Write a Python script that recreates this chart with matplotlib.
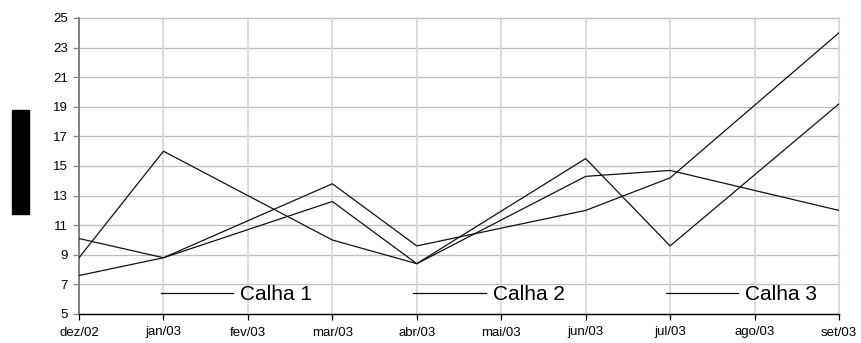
import matplotlib
matplotlib.use("Agg")
import matplotlib.pyplot as plt
from matplotlib.patches import Rectangle

# Month axis and the months that have measurements
months = ["dez/02", "jan/03", "fev/03", "mar/03", "abr/03",
          "mai/03", "jun/03", "jul/03", "ago/03", "set/03"]
measured = ["dez/02", "jan/03", "mar/03", "abr/03", "jun/03", "jul/03", "set/03"]

# Readings per channel
calha1 = [8.8, 16.0, 10.0, 8.4, 15.5, 9.6, 19.2]
calha2 = [10.1, 8.8, 13.8, 9.6, 12.0, 14.2, 24.0]
calha3 = [7.6, 8.8, 12.6, 8.4, 14.3, 14.7, 12.0]
series_names = ["Calha 1", "Calha 2", "Calha 3"]

y_ticks = list(range(5, 26, 2))

plt.rcParams["font.family"] = ["Liberation Sans", "DejaVu Sans"]

W, H = 861, 343
fig = plt.figure(figsize=(W / 100, H / 100), dpi=100)
ax = fig.add_axes([79 / W, 1 - 314 / H, (839 - 79) / W, (314 - 18) / H])

xpos = [months.index(m) for m in measured]
handles = []
for vals, name in zip([calha1, calha2, calha3], series_names):
    h, = ax.plot(xpos, vals, color="#111111", lw=0.9, label=name, zorder=3)
    handles.append(h)

ax.set_xlim(0, len(months) - 1)
ax.set_ylim(5, 25)
ax.set_xticks(range(len(months)))
ax.set_xticklabels(months)
ax.set_yticks(y_ticks)

# Grid: horizontal darker, vertical lighter
for y in y_ticks:
    ax.axhline(y, color="#bdbdbd", lw=0.9, zorder=1, clip_on=False)
for x in range(len(months)):
    ax.axvline(x, color="#d9d9d9", lw=1.3, zorder=1, clip_on=False)

for s in ["top", "right"]:
    ax.spines[s].set_visible(False)
ax.spines["left"].set_color("#808080")
ax.spines["left"].set_linewidth(1.4)
ax.spines["bottom"].set_color("black")
ax.spines["bottom"].set_linewidth(1.0)
ax.spines["bottom"].set_zorder(4)

ax.tick_params(axis="y", length=4, width=0.9, color="#808080", pad=4, labelsize=9.5)
ax.tick_params(axis="x", length=4, width=0.9, color="black", pad=5, labelsize=9.5)

leg = ax.legend(handles=handles, loc="center left",
                bbox_to_anchor=(0.108, 0.066), ncol=3, frameon=False,
                prop={"size": 15},
                handlelength=3.46, handletextpad=0.34, columnspacing=4.86,
                borderpad=0, borderaxespad=0)
for line in leg.get_lines():
    line.set_linewidth(0.9)

# Solid block left of the value axis
fig.patches.append(Rectangle((12 / W, 1 - 214 / H), 17 / W, 104 / H,
                             transform=fig.transFigure, color="black"))

fig.savefig("out.png", dpi=100)
